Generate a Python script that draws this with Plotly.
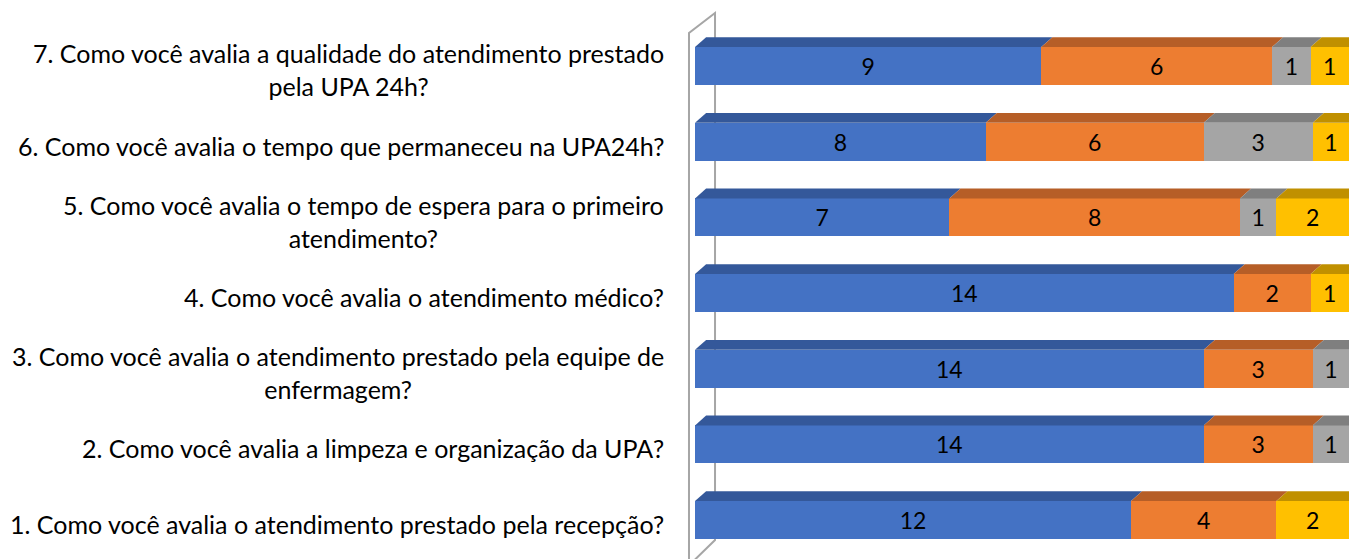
import plotly.graph_objects as go

# ---- data (bottom row first) ----
questions = [
    "1. Como você avalia o atendimento prestado pela recepção?",
    "2. Como você avalia a limpeza e organização da UPA?",
    "3. Como você avalia o atendimento prestado pela equipe de<br>enfermagem?",
    "4. Como você avalia o atendimento médico?",
    "5. Como você avalia o tempo de espera para o primeiro<br>atendimento?",
    "6. Como você avalia o tempo que permaneceu na UPA24h?",
    "7. Como você avalia a qualidade do atendimento prestado<br>pela UPA 24h?",
]
serie_azul = [12, 14, 14, 14, 7, 8, 9]
serie_laranja = [4, 3, 3, 2, 8, 6, 6]
serie_cinza = [0, 1, 1, 0, 1, 3, 1]
serie_amarela = [2, 0, 0, 1, 2, 1, 1]

series = [serie_azul, serie_laranja, serie_cinza, serie_amarela]
front_colors = ["#4472C4", "#ED7D31", "#A5A5A5", "#FFC000"]
top_colors = ["#34589A", "#B65E27", "#7F7F7F", "#C09000"]
side_colors = ["#2B4A80", "#9C501F", "#6B6B6B", "#A07800"]

FONT = "Lato"
FS_LABEL = 25
FS_BAR = 23
BAR_W = 0.50
DX = 1.7      # depth offset in % units
DY = 0.13     # depth offset in category units

y_pos = list(range(len(questions)))
totals = [sum(s[i] for s in series) for i in y_pos]

fig = go.Figure()
for k, s in enumerate(series):
    fig.add_trace(go.Bar(
        y=y_pos, x=s, orientation="h", width=BAR_W,
        marker=dict(color=front_colors[k], line=dict(width=0)),
        text=[str(v) if v else "" for v in s],
        textposition="inside", insidetextanchor="middle", textangle=0,
        textfont=dict(family=FONT, size=FS_BAR, color="black"),
        constraintext="none", hoverinfo="skip", showlegend=False,
    ))

shapes = []
# 3D top faces and side faces, computed from the data
for i in y_pos:
    cum = 0.0
    last_k = max(k for k, s in enumerate(series) if s[i] > 0)
    for k, s in enumerate(series):
        v = s[i]
        if v == 0:
            continue
        x0 = cum / totals[i] * 100
        cum += v
        x1 = cum / totals[i] * 100
        yt = i + BAR_W / 2
        yb = i - BAR_W / 2
        shapes.append(dict(
            type="path", xref="x", yref="y", layer="above",
            path=f"M {x0},{yt} L {x1},{yt} L {x1+DX},{yt+DY} L {x0+DX},{yt+DY} Z",
            fillcolor=top_colors[k], line=dict(width=0)))
        if k == last_k:
            shapes.append(dict(
                type="path", xref="x", yref="y", layer="above",
                path=f"M {x1},{yb} L {x1},{yt} L {x1+DX},{yt+DY} L {x1+DX},{yb+DY} Z",
                fillcolor=side_colors[k], line=dict(width=0)))

# axis wall (decoration)
WX0, WX1 = -0.92, 3.06
WY_TOP_F, WY_TOP_B = 6.436, 6.70
WY_BOT_B, WY_BOT_F = -0.264, -0.6
shapes.append(dict(
    type="path", xref="x", yref="y", layer="below",
    path=(f"M {WX0},{WY_BOT_F} L {WX0},{WY_TOP_F} L {WX1},{WY_TOP_B} "
          f"L {WX1},{WY_BOT_B} L {WX0},{WY_BOT_F}"),
    line=dict(color="#A6A6A6", width=2), fillcolor="rgba(0,0,0,0)"))

annotations = []
for i, q in enumerate(questions):
    annotations.append(dict(
        x=0, xref="paper", y=i, yref="y", xanchor="right", yanchor="middle",
        xshift=-19, yshift=-4, text=q, showarrow=False, align="center",
        font=dict(family=FONT, size=FS_LABEL, color="black")))

fig.update_layout(
    width=1349, height=551,
    margin=dict(l=677, r=0, t=0, b=0),
    paper_bgcolor="white", plot_bgcolor="white",
    barmode="stack", barnorm="percent",
    shapes=shapes, annotations=annotations,
    xaxis=dict(range=[-1.53, 101.22], visible=False, showgrid=False, zeroline=False),
    yaxis=dict(range=[-0.515, 6.766], visible=False, showgrid=False, zeroline=False),
)

fig.write_html("out.html")
